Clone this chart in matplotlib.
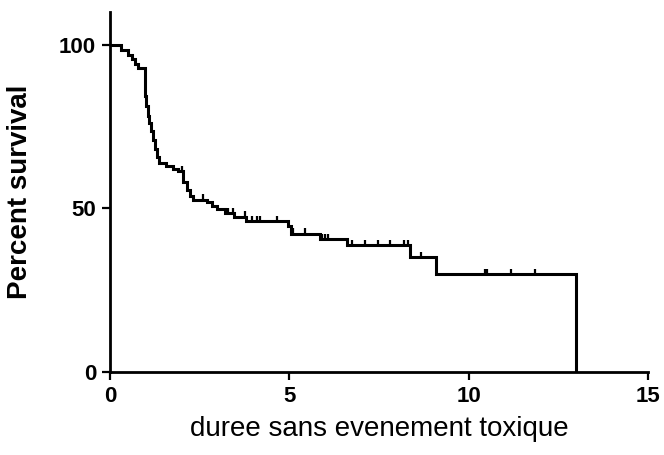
import numpy as np
import matplotlib
matplotlib.use("Agg")
import matplotlib.pyplot as plt

plt.rcParams['font.family'] = ['Liberation Sans', 'DejaVu Sans']

# --- DATA ---
# time of each drop and survival level right after it
step_t = [0.0, 0.3, 0.5, 0.6, 0.7, 0.78, 0.97, 1.0, 1.05, 1.1, 1.15, 1.2, 1.25,
          1.3, 1.38, 1.55, 1.75, 1.9, 2.04, 2.14, 2.23, 2.31, 2.7, 2.84, 2.98,
          3.2, 3.45, 3.8, 4.97, 5.05, 5.85, 6.6, 8.36, 9.09, 13.0]
step_s = [100, 98.5, 97, 95.5, 94.2, 93, 84.4, 81.4, 78.3, 76, 73.5, 71, 68,
          65.6, 64, 63, 62, 61.3, 58, 55.5, 53.7, 52.7, 51.8, 50.6, 49.7,
          48.5, 47.5, 46, 44.6, 42.3, 40.5, 38.7, 35, 30, 0]
# censored observations
censor_t = [2.0, 2.6, 3.3, 3.43, 3.76, 3.96, 4.1, 4.18, 4.66, 5.1, 5.45, 5.9,
            5.99, 6.08, 6.75, 7.11, 7.47, 7.8, 8.2, 8.3, 8.67, 10.45, 10.5,
            11.17, 11.85]

step_t = np.array(step_t)
step_s = np.array(step_s)
censor_t = np.array(censor_t)

# level of the curve at each censor time
idx = np.searchsorted(step_t, censor_t, side='right') - 1
censor_s = step_s[idx]

# --- PLOT ---
fig = plt.figure(figsize=(6.64, 4.55), dpi=100)
ax = fig.add_axes([110/664, 83/455, 538/664, 360/455])

ax.step(step_t, step_s, where='post', color='black', lw=2.2, solid_joinstyle='miter')
ax.vlines(censor_t, censor_s, censor_s + 1.6, color='black', lw=1.6)

ax.set_xlim(0, 15)
ax.set_ylim(0, 110)
ax.set_xticks([0, 5, 10, 15])
ax.set_yticks([0, 50, 100])

for side in ['top', 'right']:
    ax.spines[side].set_visible(False)
for side in ['left', 'bottom']:
    ax.spines[side].set_linewidth(2.0)
ax.spines['left'].set_bounds(0, 110)

ax.tick_params(direction='out', length=6, width=1.6, labelsize=16, pad=4)
for lab in ax.get_xticklabels() + ax.get_yticklabels():
    lab.set_fontweight('bold')

ax.set_ylabel('Percent survival', fontsize=20, fontweight='bold')
ax.yaxis.set_label_coords(-0.143, 0.5)
ax.set_xlabel('duree sans evenement toxique', fontsize=20)
ax.xaxis.set_label_coords(0.5, -0.122)

fig.savefig('out.png', dpi=100)
